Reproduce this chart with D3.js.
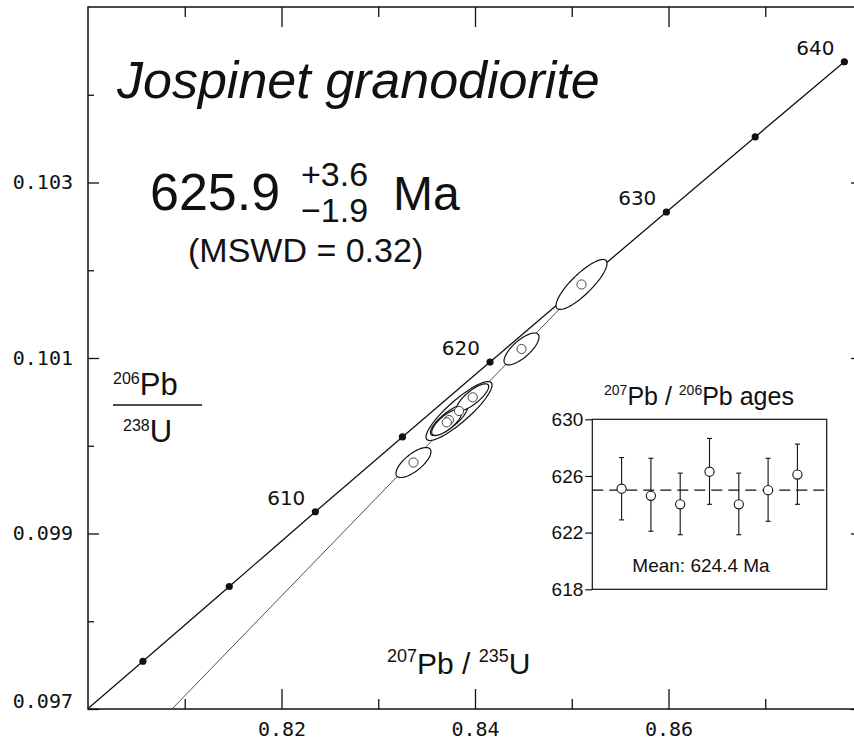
<!DOCTYPE html>
<html>
<head>
<meta charset="utf-8">
<script src="https://cdn.jsdelivr.net/npm/d3@7"></script>
<style>
  body { margin: 0; background: #fff; }
  text { fill: #111; }
</style>
</head>
<body>
<svg id="chart" width="854" height="742"></svg>
<script>
// concordia reference ages (Ma) and their isotope ratios
const concAges = [600, 605, 610, 615, 620, 625, 630, 635, 640];
const concX = [0.80568, 0.81460, 0.82350, 0.83250, 0.84155, 0.85064, 0.85978, 0.86896, 0.87818];
const concY = [0.097544, 0.098396, 0.099248, 0.100101, 0.100954, 0.101809, 0.102664, 0.103519, 0.104376];
const concLabelAges = [610, 620, 630, 640];
// where the curve enters at the lower left corner
const concEntry = [0.80000, 0.097004];

// discordia: from the plot bottom up to the upper intercept (625.9 Ma)
const discX = [0.80868, 0.85228];
const discY = [0.097000, 0.101962];

// zircon analyses: 207Pb/235U, 206Pb/238U, errors and correlation
const ellX = [0.83364, 0.83708, 0.83731, 0.83835, 0.83976, 0.84481, 0.85101];
const ellY = [0.099809, 0.100267, 0.100293, 0.100396, 0.100552, 0.101103, 0.101838];
const ellSx = [0.001809, 0.001550, 0.001912, 0.003411, 0.001654, 0.001809, 0.002636];
const ellSy = [0.000171, 0.000148, 0.000177, 0.000336, 0.000154, 0.000182, 0.000285];
const ellRho = [0.72, 0.75, 0.80, 0.88, 0.80, 0.74, 0.84];

// axis ticks
const xMajor = [0.82, 0.84, 0.86];
const xMinor = [0.81, 0.83, 0.85, 0.87];
const yMajor = [0.097, 0.099, 0.101, 0.103];
const yMinor = [0.098, 0.100, 0.102, 0.104];

// inset: 207Pb/206Pb ages of the grains
const grainAge = [625.1, 624.6, 624.0, 626.3, 624.0, 625.0, 626.1];
const grainHi = [627.3, 627.25, 626.2, 628.65, 626.2, 627.25, 628.25];
const grainLo = [622.9, 622.1, 621.85, 624.0, 621.85, 622.8, 624.0];
const meanAge = 625.0;
const insetTicks = [618, 622, 626, 630];

const svg = d3.select("#chart");
svg.append("rect").attr("width", 854).attr("height", 742).attr("fill", "#fff");

const x = d3.scaleLinear().domain([0.80, 0.88]).range([88, 862]);
const y = d3.scaleLinear().domain([0.097, 0.105]).range([709, 7]);

const sans = "'Liberation Sans', Arial, Helvetica, sans-serif";
const mono = "'DejaVu Sans Mono', monospace";

// frame
svg.append("rect")
    .attr("x", x(0.80)).attr("y", y(0.105))
    .attr("width", x(0.88) - x(0.80)).attr("height", y(0.097) - y(0.105))
    .attr("fill", "none").attr("stroke", "#111").attr("stroke-width", 1.5);

function styleAxis(g) {
  g.select(".domain").remove();
  g.selectAll(".tick line").attr("stroke", "#111").attr("stroke-width", 1.3);
  g.selectAll("text").attr("font-family", mono).attr("font-size", 20).attr("fill", "#111");
}

// bottom and top ticks (inward)
svg.append("g").attr("transform", `translate(0,${y(0.097)})`)
    .call(d3.axisBottom(x).tickValues(xMajor).tickSize(-20).tickPadding(13).tickFormat(d3.format(".2f")))
    .call(styleAxis);
svg.append("g").attr("transform", `translate(0,${y(0.097)})`)
    .call(d3.axisBottom(x).tickValues(xMinor).tickSize(-10).tickFormat(""))
    .call(styleAxis);
svg.append("g").attr("transform", `translate(0,${y(0.105)})`)
    .call(d3.axisTop(x).tickValues(xMajor).tickSize(-20).tickFormat(""))
    .call(styleAxis);
svg.append("g").attr("transform", `translate(0,${y(0.105)})`)
    .call(d3.axisTop(x).tickValues(xMinor).tickSize(-10).tickFormat(""))
    .call(styleAxis);

// left and right ticks (inward)
const yl = svg.append("g").attr("transform", `translate(${x(0.80)},0)`)
    .call(d3.axisLeft(y).tickValues(yMajor).tickSize(-11).tickPadding(15).tickFormat(d3.format(".3f")))
    .call(styleAxis);
yl.selectAll(".tick text").filter(d => d === 0.097).attr("dy", "-0.1em");
svg.append("g").attr("transform", `translate(${x(0.80)},0)`)
    .call(d3.axisLeft(y).tickValues(yMinor).tickSize(-6).tickFormat(""))
    .call(styleAxis);
svg.append("g").attr("transform", `translate(${x(0.88)},0)`)
    .call(d3.axisRight(y).tickValues(yMajor).tickSize(-11).tickFormat(""))
    .call(styleAxis);
svg.append("g").attr("transform", `translate(${x(0.88)},0)`)
    .call(d3.axisRight(y).tickValues(yMinor).tickSize(-6).tickFormat(""))
    .call(styleAxis);

const plot = svg.append("g");

// discordia
plot.append("path")
    .datum(discX.map((d, i) => [d, discY[i]]))
    .attr("d", d3.line().x(d => x(d[0])).y(d => y(d[1])))
    .attr("fill", "none").attr("stroke", "#222").attr("stroke-width", 0.8);

// concordia
const conc = [concEntry].concat(concX.map((d, i) => [d, concY[i]]));
plot.append("path")
    .datum(conc)
    .attr("d", d3.line().x(d => x(d[0])).y(d => y(d[1])).curve(d3.curveMonotoneX))
    .attr("fill", "none").attr("stroke", "#111").attr("stroke-width", 1.3);

plot.selectAll(".cdot")
    .data(concAges)
    .join("circle")
    .attr("class", "cdot")
    .attr("cx", (d, i) => x(concX[i]))
    .attr("cy", (d, i) => y(concY[i]))
    .attr("r", 3.6)
    .attr("fill", "#111");

plot.selectAll(".clab")
    .data(concLabelAges)
    .join("text")
    .attr("class", "clab")
    .attr("x", d => x(concX[concAges.indexOf(d)]) - 10)
    .attr("y", d => y(concY[concAges.indexOf(d)]) - 7)
    .attr("text-anchor", "end")
    .attr("font-family", "'DejaVu Sans', sans-serif")
    .attr("font-size", 20)
    .text(d => d);

// error ellipses, largest first so the small ones sit on top
const ell = ellX.map((d, i) => ({ cx: d, cy: ellY[i], sx: ellSx[i], sy: ellSy[i], rho: ellRho[i] }))
    .sort((a, b) => b.sx * b.sy - a.sx * a.sy);
const thetas = d3.range(0, 360, 4).map(a => a * Math.PI / 180);
const ellLine = d3.line().x(d => x(d[0])).y(d => y(d[1])).curve(d3.curveLinearClosed);

const eg = plot.selectAll(".ell").data(ell).join("g").attr("class", "ell");
eg.append("path")
    .attr("d", e => ellLine(thetas.map(t => [
      e.cx + e.sx * Math.cos(t),
      e.cy + e.sy * (e.rho * Math.cos(t) + Math.sqrt(1 - e.rho * e.rho) * Math.sin(t))
    ])))
    .attr("fill", "#fff").attr("stroke", "#111").attr("stroke-width", 1.2);
plot.selectAll(".pt")
    .data(ell)
    .join("circle")
    .attr("class", "pt")
    .attr("cx", e => x(e.cx)).attr("cy", e => y(e.cy))
    .attr("r", 4.6)
    .attr("fill", "#fff").attr("stroke", "#333").attr("stroke-width", 0.9);

// texts
svg.append("text")
    .attr("x", 117).attr("y", 98)
    .attr("font-family", sans).attr("font-style", "italic").attr("font-size", 52)
    .text("Jospinet granodiorite");
svg.append("text").attr("x", 150).attr("y", 210)
    .attr("font-family", sans).attr("font-size", 52).text("625.9");
svg.append("text").attr("x", 301).attr("y", 186)
    .attr("font-family", sans).attr("font-size", 34).text("+3.6");
svg.append("text").attr("x", 301).attr("y", 222)
    .attr("font-family", sans).attr("font-size", 34).text("\u22121.9");
svg.append("text").attr("x", 393).attr("y", 210)
    .attr("font-family", sans).attr("font-size", 48).text("Ma");
svg.append("text").attr("x", 188).attr("y", 262)
    .attr("font-family", sans).attr("font-size", 34).text("(MSWD = 0.32)");

// y axis label as a fraction
const yLab = svg.append("g").attr("font-family", sans);
const t1 = yLab.append("text").attr("x", 113).attr("y", 395);
t1.append("tspan").attr("font-size", 16).attr("dy", -11).text("206");
t1.append("tspan").attr("font-size", 31).attr("dy", 11).text("Pb");
yLab.append("line").attr("x1", 113).attr("x2", 202).attr("y1", 405).attr("y2", 405)
    .attr("stroke", "#111").attr("stroke-width", 1.5);
const t2 = yLab.append("text").attr("x", 123).attr("y", 442);
t2.append("tspan").attr("font-size", 16).attr("dy", -11).text("238");
t2.append("tspan").attr("font-size", 31).attr("dy", 11).text("U");

// x axis label
const xl = svg.append("text").attr("x", 387).attr("y", 674).attr("font-family", sans);
xl.append("tspan").attr("font-size", 18).attr("dy", -12).text("207");
xl.append("tspan").attr("font-size", 30).attr("dy", 12).text("Pb / ");
xl.append("tspan").attr("font-size", 18).attr("dy", -12).text("235");
xl.append("tspan").attr("font-size", 30).attr("dy", 12).text("U");

// inset
const ix = d3.scaleLinear().domain([0, 8]).range([592.3, 826.7]);
const iy = d3.scaleLinear().domain([618, 630]).range([589.3, 419.3]);
const inset = svg.append("g");

inset.append("rect")
    .attr("x", ix(0)).attr("y", iy(630))
    .attr("width", ix(8) - ix(0)).attr("height", iy(618) - iy(630))
    .attr("fill", "#fff").attr("stroke", "#111").attr("stroke-width", 1.2);

inset.append("g").attr("transform", `translate(${ix(0)},0)`)
    .call(d3.axisLeft(iy).tickValues(insetTicks).tickSize(7).tickPadding(2))
    .call(g => {
      g.select(".domain").remove();
      g.selectAll(".tick line").attr("stroke", "#111").attr("stroke-width", 1.2);
      g.selectAll("text").attr("font-family", sans).attr("font-size", 19).attr("fill", "#111");
    });

const it = inset.append("text").attr("x", 699).attr("y", 405)
    .attr("text-anchor", "middle").attr("font-family", sans);
it.append("tspan").attr("font-size", 14).attr("dy", -10).text("207");
it.append("tspan").attr("font-size", 25).attr("dy", 10).text("Pb / ");
it.append("tspan").attr("font-size", 14).attr("dy", -10).text("206");
it.append("tspan").attr("font-size", 25).attr("dy", 10).text("Pb ages");

inset.append("line")
    .attr("x1", ix(0)).attr("x2", ix(8))
    .attr("y1", iy(meanAge)).attr("y2", iy(meanAge))
    .attr("stroke", "#111").attr("stroke-width", 1.2).attr("stroke-dasharray", "11,6");

const bars = inset.selectAll(".bar").data(grainAge).join("g").attr("class", "bar");
bars.append("line")
    .attr("x1", (d, i) => ix(i + 1)).attr("x2", (d, i) => ix(i + 1))
    .attr("y1", (d, i) => iy(grainHi[i])).attr("y2", (d, i) => iy(grainLo[i]))
    .attr("stroke", "#111").attr("stroke-width", 1.1);
[grainHi, grainLo].forEach(arr => {
  bars.append("line")
      .attr("x1", (d, i) => ix(i + 1) - 2.5).attr("x2", (d, i) => ix(i + 1) + 2.5)
      .attr("y1", (d, i) => iy(arr[i])).attr("y2", (d, i) => iy(arr[i]))
      .attr("stroke", "#111").attr("stroke-width", 1.1);
});
bars.append("circle")
    .attr("cx", (d, i) => ix(i + 1)).attr("cy", d => iy(d))
    .attr("r", 4.6)
    .attr("fill", "#fff").attr("stroke", "#111").attr("stroke-width", 1.1);

inset.append("text").attr("x", 701).attr("y", 572)
    .attr("text-anchor", "middle").attr("font-family", sans).attr("font-size", 19)
    .text("Mean: 624.4 Ma");
</script>
</body>
</html>
